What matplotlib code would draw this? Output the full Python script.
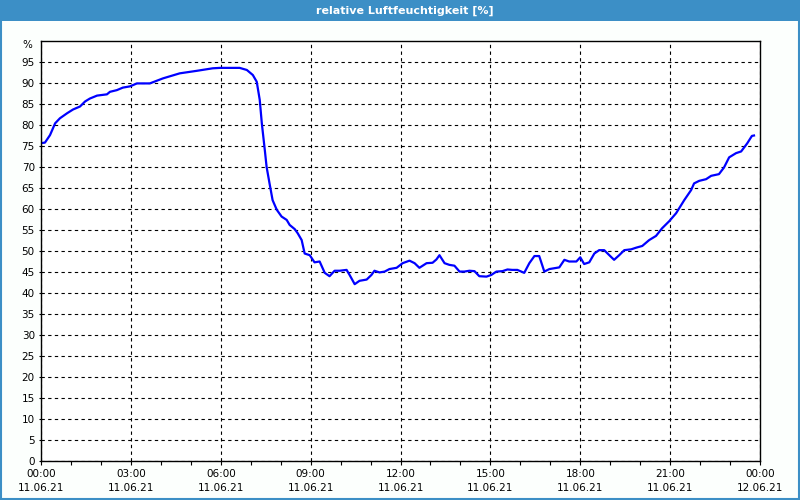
import matplotlib.pyplot as plt
from matplotlib.patches import Rectangle

# Hours since 11.06.21 00:00 and relative humidity in %
hours = [0.00, 0.13, 0.30, 0.47, 0.63, 0.87, 1.07, 1.30, 1.47, 1.63,
         1.87, 2.20, 2.30, 2.53, 2.73, 2.97, 3.20, 3.63, 4.07, 4.63,
         5.20, 5.73, 5.97, 6.63, 6.87, 7.07, 7.20, 7.30, 7.37, 7.47,
         7.53, 7.63, 7.73, 7.87, 8.03, 8.20, 8.30, 8.47, 8.57, 8.70,
         8.80, 8.97, 9.13, 9.30, 9.47, 9.63, 9.80, 9.97, 10.20, 10.30,
         10.47, 10.63, 10.87, 11.03, 11.13, 11.30, 11.47, 11.63, 11.87, 12.07,
         12.30, 12.47, 12.63, 12.87, 13.07, 13.20, 13.30, 13.47, 13.63, 13.80,
         13.97, 14.13, 14.30, 14.47, 14.63, 14.87, 15.03, 15.20, 15.40, 15.57,
         15.73, 15.90, 16.13, 16.30, 16.47, 16.63, 16.80, 16.97, 17.30, 17.47,
         17.63, 17.87, 18.00, 18.13, 18.30, 18.47, 18.63, 18.80, 18.97, 19.13,
         19.30, 19.47, 19.70, 19.87, 20.07, 20.30, 20.53, 20.73, 20.97, 21.20,
         21.47, 21.70, 21.80, 21.97, 22.20, 22.37, 22.63, 22.80, 22.97, 23.20,
         23.37, 23.57, 23.73, 23.80]
humidity = [75.7, 75.8, 77.6, 80.4, 81.6, 82.8, 83.7, 84.4, 85.6, 86.3,
            87.0, 87.3, 87.9, 88.3, 88.9, 89.2, 89.9, 89.9, 91.1, 92.3,
            92.9, 93.5, 93.6, 93.6, 93.1, 91.9, 90.3, 86.0, 80.4, 74.0,
            70.0, 66.0, 62.1, 59.8, 58.2, 57.4, 56.2, 55.2, 54.2, 52.6,
            49.4, 49.0, 47.3, 47.5, 44.8, 44.0, 45.3, 45.3, 45.5, 44.3,
            42.1, 42.9, 43.2, 44.3, 45.3, 44.9, 45.1, 45.7, 46.0, 47.1,
            47.7, 47.1, 46.0, 47.1, 47.2, 48.0, 49.0, 47.1, 46.7, 46.5,
            45.1, 45.1, 45.3, 45.2, 44.0, 43.9, 44.3, 45.1, 45.2, 45.6,
            45.5, 45.5, 44.8, 47.1, 48.8, 48.8, 45.1, 45.7, 46.1, 47.9,
            47.5, 47.5, 48.5, 46.9, 47.3, 49.4, 50.2, 50.2, 49.0, 47.9,
            49.0, 50.2, 50.4, 50.8, 51.2, 52.6, 53.6, 55.4, 57.1, 59.0,
            62.1, 64.5, 66.1, 66.7, 67.1, 67.9, 68.3, 69.9, 72.3, 73.3,
            73.7, 75.6, 77.4, 77.5]

x_ticks = [0, 3, 6, 9, 12, 15, 18, 21, 24]
x_labels = ['00:00\n11.06.21', '03:00\n11.06.21', '06:00\n11.06.21', '09:00\n11.06.21',
            '12:00\n11.06.21', '15:00\n11.06.21', '18:00\n11.06.21', '21:00\n11.06.21',
            '00:00\n12.06.21']
y_ticks = list(range(0, 100, 5))

frame_blue = '#3c8fc6'

fig = plt.figure(figsize=(8, 5), dpi=100, facecolor='#fcfffd')

# title bar and window border
fig.patches.append(Rectangle((0, 0.958), 1, 0.042, transform=fig.transFigure,
                             facecolor=frame_blue, edgecolor='none'))
fig.patches.append(Rectangle((0.001, 0.002), 0.998, 0.996, transform=fig.transFigure,
                             facecolor='none', edgecolor=frame_blue, linewidth=1.5))
fig.text(0.506, 0.979, 'relative Luftfeuchtigkeit [%]', color='white', fontsize=8,
         fontweight='bold', ha='center', va='center')

ax = fig.add_axes([0.0513, 0.078, 0.8987, 0.84])
ax.set_facecolor('white')
ax.plot(hours, humidity, color='#0000ff', linewidth=1.6)

ax.set_xlim(0, 24)
ax.set_ylim(0, 100)
ax.set_xticks(x_ticks)
ax.set_xticklabels(x_labels, fontsize=7.5, linespacing=1.45)
ax.set_xticks(range(25), minor=True)
ax.set_yticks(y_ticks)
ax.set_yticklabels([str(v) for v in y_ticks], fontsize=7.5)
ax.tick_params(axis='x', which='both', direction='out', length=3, width=0.8, pad=3)
ax.tick_params(axis='y', length=1.5, width=0.8, pad=3)
ax.text(-0.012, 99, '%', transform=ax.get_yaxis_transform(), ha='right', va='center',
        fontsize=7.5)

ax.grid(True, which='major', color='black', linestyle=(0, (3, 3)), linewidth=0.8)
for s in ax.spines.values():
    s.set_linewidth(1.0)

plt.savefig('out.png', dpi=100, facecolor=fig.get_facecolor())
